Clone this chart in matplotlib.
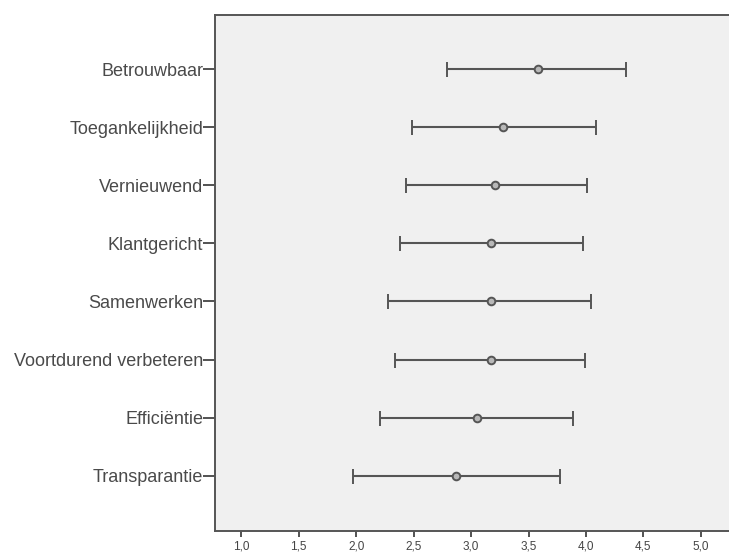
import matplotlib
matplotlib.use("Agg")
import matplotlib.pyplot as plt
import numpy as np

categories = ["Betrouwbaar", "Toegankelijkheid", "Vernieuwend", "Klantgericht",
              "Samenwerken", "Voortdurend verbeteren", "Efficiëntie", "Transparantie"]
means = [3.58, 3.28, 3.21, 3.17, 3.17, 3.17, 3.05, 2.87]
lower = [2.79, 2.49, 2.43, 2.38, 2.28, 2.34, 2.21, 1.97]
upper = [4.35, 4.09, 4.01, 3.97, 4.04, 3.99, 3.89, 3.77]
xticks = [1.0, 1.5, 2.0, 2.5, 3.0, 3.5, 4.0, 4.5, 5.0]
xticklabels = ["1,0", "1,5", "2,0", "2,5", "3,0", "3,5", "4,0", "4,5", "5,0"]

plt.rcParams['font.family'] = ['Liberation Sans', 'DejaVu Sans']

fig = plt.figure(figsize=(7.29, 5.54), dpi=100)
ax = fig.add_axes([0.2949, 0.0415, 0.7051, 0.9314])
ax.set_facecolor("#f0f0f0")

n = len(categories)
ypos = np.arange(n)[::-1]
m = np.array(means)
xerr = np.vstack([m - np.array(lower), np.array(upper) - m])
ax.errorbar(m, ypos, xerr=xerr, fmt='o', color='#555555', ecolor='#555555',
            elinewidth=1.5, capsize=5.4, capthick=1.5, markersize=5.5,
            markerfacecolor='#b8b8b8', markeredgecolor='#555555', markeredgewidth=1.4)

ax.set_xlim(0.771, 5.245)
ax.set_ylim(-0.95, n - 1 + 0.93)
ax.set_yticks(ypos)
ax.set_yticklabels(categories, fontsize=13, color='#4a4a4a')
ax.set_xticks(xticks)
ax.set_xticklabels(xticklabels, fontsize=8.5, color='#444444')
ax.tick_params(axis='y', length=8.6, width=1.3, color='#444444', pad=0)
ax.tick_params(axis='x', length=4.3, width=1.3, color='#444444', pad=2.5)

for s in ['left', 'bottom', 'top']:
    ax.spines[s].set_color('#555555')
    ax.spines[s].set_linewidth(1.4)
ax.spines['right'].set_visible(False)

fig.savefig("out.png", dpi=100)
